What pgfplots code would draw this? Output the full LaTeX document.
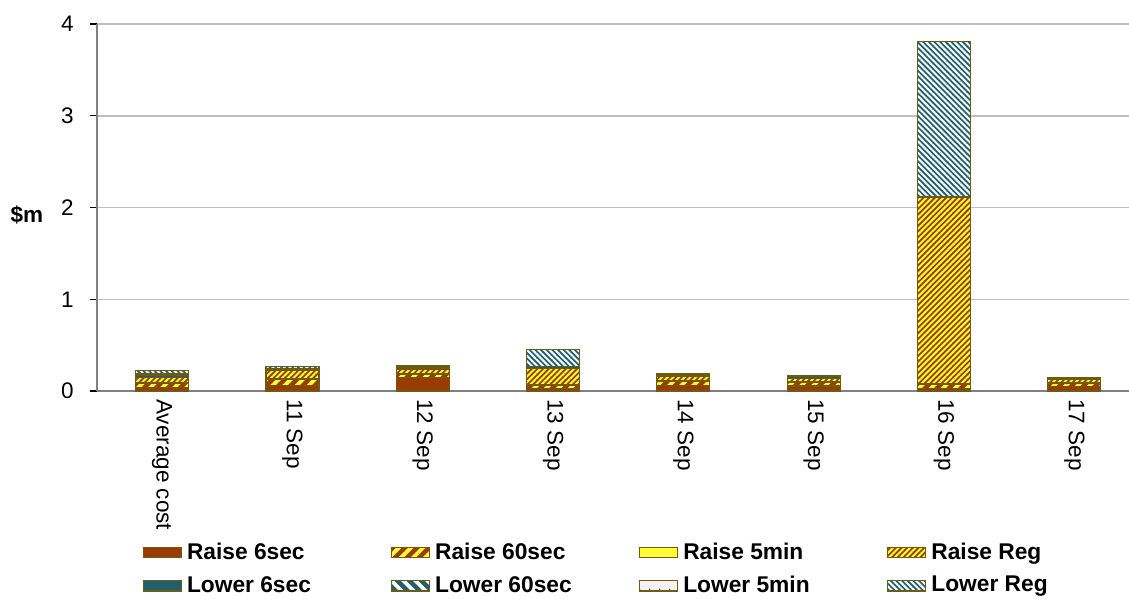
\documentclass[border=0pt]{standalone}
\usepackage{fontspec}
\setmainfont{Liberation Sans}
\usepackage{pgfplots}
\pgfplotsset{compat=1.18}
\usepackage{pgfplotstable}
\usetikzlibrary{patterns.meta}

\definecolor{edge}{RGB}{110,90,20}
\definecolor{rbrown}{RGB}{153,60,0}
\definecolor{ryellow}{RGB}{255,255,51}
\definecolor{lteal}{RGB}{31,95,110}
\definecolor{lgrey}{RGB}{242,242,242}
\definecolor{gridgray}{RGB}{190,190,190}
\definecolor{axgray}{RGB}{128,128,128}

% x R6 R60 R5 RReg L6 L60 L5 LReg
\pgfplotstableread{
x  r6    r60   r5    rreg  l6    l60   l5    lreg
0  0.04  0.04  0.01  0.06  0.015 0.015 0.005 0.04
1  0.06  0.07  0.01  0.08  0.02  0.01  0     0.02
2  0.15  0.03  0.01  0.05  0.015 0.01  0     0.01
3  0.03  0.03  0.01  0.18  0.015 0     0     0.19
4  0.06  0.04  0.01  0.045 0.015 0.01  0     0.01
5  0.055 0.035 0.01  0.04  0.015 0.005 0     0.005
6  0.03  0.04  0.01  2.03  0     0.01  0     1.69
7  0.05  0.03  0.01  0.035 0.015 0.005 0     0.005
}\costs

\begin{document}
\begin{tikzpicture}[font=\fontsize{9}{11}\selectfont]
\useasboundingbox (0,0) rectangle (451.6pt,239.2pt);
\begin{axis}[
  at={(38.8pt,82.8pt)}, anchor=south west,
  scale only axis, width=412.8pt, height=146.8pt,
  ybar stacked, bar width=21.2pt,
  xmin=-0.5, xmax=7.42, ymin=0, ymax=4,
  axis x line*=bottom, axis y line*=left,
  axis line style={axgray, line width=0.6pt},
  ymajorgrids, grid style={gridgray, line width=0.6pt},
  ytick={0,1,2,3,4},
  /pgf/number format/assume math mode=true,
  tick align=outside, major tick length=2.8pt,
  tick style={black, line width=0.5pt},
  xtick={0,...,7},
  xticklabels={Average cost,11 Sep,12 Sep,13 Sep,14 Sep,15 Sep,16 Sep,17 Sep},
  x tick style={draw=none},
  extra x ticks={0.5,1.5,2.5,3.5,4.5,5.5,6.5},
  extra x tick labels={},
  extra x tick style={tick style={black, line width=0.5pt}, grid=none},
  xticklabel style={rotate=-90, anchor=west, yshift=0pt, xshift=-3pt},
  yticklabel style={xshift=-3pt},
  ylabel={\textbf{\$m}},
  ylabel style={rotate=-90, at={(axis description cs:-0.068,0.48)}, anchor=center},
  every axis plot/.append style={draw=edge, line width=0.45pt},
  legend columns=4, legend cell align=left,
  legend style={at={(axis description cs:0.044,-0.405)}, anchor=north west,
    draw=none, fill=none, font=\fontsize{9.1}{11}\selectfont\bfseries,
    row sep=3.2pt, column sep=0pt, inner sep=0pt,
    nodes={inner xsep=2pt, inner ysep=1pt}},
  legend image code/.code={\draw[#1] (0pt,-2pt) rectangle (15.2pt,2.2pt);},
]
\addplot[fill=rbrown] table[x=x,y=r6]{\costs};
\addlegendentry{\makebox[79.6pt][l]{Raise 6sec}}
\addplot[fill=rbrown, postaction={pattern={Lines[angle=45,distance=3.4pt,line width=1.5pt]}, pattern color=ryellow}] table[x=x,y=r60]{\costs};
\addlegendentry{\makebox[79.6pt][l]{Raise 60sec}}
\addplot[fill=ryellow] table[x=x,y=r5]{\costs};
\addlegendentry{\makebox[79.6pt][l]{Raise 5min}}
\addplot[fill=rbrown, postaction={pattern={Lines[angle=45,distance=1.6pt,line width=0.8pt]}, pattern color=ryellow}] table[x=x,y=rreg]{\costs};
\addlegendentry{\makebox[60pt][l]{Raise Reg}}
\addplot[fill=lteal] table[x=x,y=l6]{\costs};
\addlegendentry{\makebox[79.6pt][l]{Lower 6sec}}
\addplot[fill=lteal, postaction={pattern={Lines[angle=-45,distance=3.4pt,line width=1.5pt]}, pattern color=white}] table[x=x,y=l60]{\costs};
\addlegendentry{\makebox[79.6pt][l]{Lower 60sec}}
\addplot[fill=lgrey, postaction={pattern={Dots[distance=4pt,radius=0.35pt]}, pattern color=lteal}] table[x=x,y=l5]{\costs};
\addlegendentry{\makebox[79.6pt][l]{Lower 5min}}
\addplot[fill=lteal, postaction={pattern={Lines[angle=-45,distance=1.6pt,line width=0.8pt]}, pattern color=white}] table[x=x,y=lreg]{\costs};
\addlegendentry{\makebox[60pt][l]{Lower Reg}}
\end{axis}
\end{tikzpicture}
\end{document}
